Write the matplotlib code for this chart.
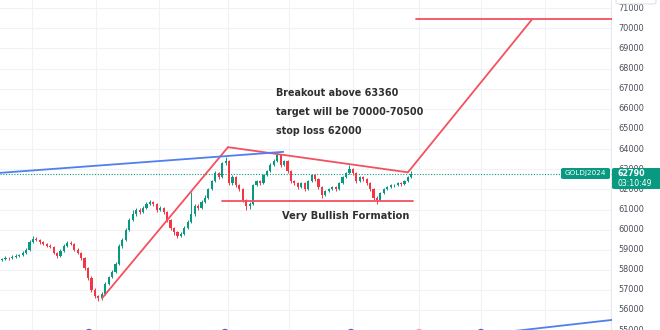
import matplotlib
matplotlib.use("Agg")
import matplotlib.pyplot as plt
from matplotlib.patches import FancyBboxPatch
import numpy as np

# ---- data ----
opens = [58500, 58550, 58600, 58580, 58650, 58700, 58720, 58850, 59000, 59400,
         59550, 59500, 59380, 59300, 59200, 59150, 58850, 58700, 58950, 59200,
         59350, 59300, 59000, 58850, 58600, 58100, 57600, 57000, 56700, 56600,
         56800, 57300, 57650, 57900, 58300, 59200, 59500, 60000, 60500, 60800,
         61000, 60900, 61100, 61300, 61400, 61300, 61000, 61100, 60900, 60500,
         60100, 59900, 59700, 59800, 60100, 60400, 60800, 61200, 61100, 61400,
         61600, 62000, 62400, 62800, 62600, 63300, 63400, 62300, 62600, 62200,
         62000, 61500, 61200, 61300, 62200, 62400, 62300, 62700, 62900, 63200,
         63400, 63700, 63200, 63400, 62900, 62400, 62300, 62100, 62300, 62000,
         62400, 62700, 62500, 62100, 61700, 61900, 62000, 62100, 62000, 62300,
         62600, 62800, 63000, 62800, 62400, 62600, 62500, 62300, 62000, 61600,
         61500, 61800, 62000, 62100, 62200, 62200, 62300, 62250, 62400, 62600]
closes = [58550, 58600, 58580, 58650, 58700, 58720, 58850, 59000, 59400, 59550,
          59500, 59380, 59300, 59200, 59150, 58850, 58700, 58950, 59200, 59350,
          59300, 59000, 58850, 58600, 58100, 57600, 57000, 56700, 56600, 56800,
          57300, 57650, 57900, 58300, 59200, 59500, 60000, 60500, 60800, 61000,
          60900, 61100, 61300, 61400, 61300, 61000, 61100, 60900, 60500, 60100,
          59900, 59700, 59800, 60100, 60400, 60800, 61200, 61100, 61400, 61600,
          62000, 62400, 62800, 62600, 63300, 63400, 62300, 62600, 62200, 62000,
          61500, 61200, 61300, 62200, 62400, 62300, 62700, 62900, 63200, 63400,
          63700, 63200, 63400, 62900, 62400, 62300, 62100, 62300, 62000, 62400,
          62700, 62500, 62100, 61700, 61900, 62000, 62100, 62000, 62300, 62600,
          62800, 63000, 62800, 62400, 62600, 62500, 62300, 62000, 61600, 61500,
          61800, 62000, 62100, 62200, 62200, 62300, 62250, 62400, 62600, 62790]
highs = [58620, 58680, 58660, 58720, 58780, 58800, 58920, 59080, 59480, 59680,
         59620, 59560, 59450, 59360, 59280, 59200, 58900, 59020, 59280, 59450,
         59420, 59350, 59080, 58900, 58650, 58150, 57680, 57100, 56780, 56900,
         57380, 57720, 58000, 58380, 59280, 59600, 60080, 60600, 61000, 61100,
         61080, 61200, 61380, 61500, 61450, 61350, 61200, 61150, 60950, 60550,
         60150, 59950, 59900, 60200, 60480, 61870, 61300, 61280, 61480, 61700,
         62080, 62480, 62900, 62850, 63380, 63600, 63450, 62700, 62650, 62250,
         62050, 61550, 61400, 62280, 62480, 62450, 62780, 62980, 63300, 63500,
         63850, 63750, 63480, 63450, 62950, 62480, 62350, 62380, 62350, 62480,
         62780, 62750, 62550, 62150, 61980, 62080, 62180, 62150, 62380, 62680,
         62880, 63200, 63050, 62850, 62680, 62650, 62550, 62350, 62050, 61650,
         61880, 62080, 62180, 62280, 62280, 62380, 62350, 62480, 62680, 62900]
lows = [58430, 58500, 58520, 58530, 58600, 58640, 58680, 58800, 58950, 59350,
        59420, 59300, 59220, 59120, 59080, 58780, 58620, 58650, 58900, 59150,
        59220, 58920, 58780, 58500, 58000, 57500, 56900, 56600, 56450, 56500,
        56750, 57250, 57600, 57850, 58250, 59100, 59450, 59950, 60450, 60700,
        60800, 60850, 61050, 61250, 61200, 60900, 60950, 60800, 60400, 60000,
        59750, 59600, 59650, 59750, 60050, 60350, 60700, 61000, 61050, 61350,
        61550, 61950, 62350, 62500, 62550, 63200, 62200, 62200, 62100, 61900,
        61400, 61000, 61050, 61250, 62150, 62200, 62250, 62650, 62850, 63150,
        63350, 63100, 63150, 62800, 62300, 62200, 62000, 62050, 61900, 61950,
        62350, 62400, 62000, 61600, 61650, 61850, 61950, 61920, 61950, 62250,
        62550, 62750, 62700, 62300, 62350, 62400, 62200, 61900, 61500, 61300,
        61450, 61750, 61950, 62050, 62120, 62150, 62180, 62200, 62350, 62550]

price_ticks = [55000, 56000, 57000, 58000, 59000, 60000, 61000, 62000, 63000,
               64000, 65000, 66000, 67000, 68000, 69000, 70000, 71000]
last_price = 62790
symbol = "GOLDJ2024"
countdown = "03:10:49"

# drawn trend lines (bar index, price)
red_up = ([29.1, 65.7], [56600, 64100])
red_top = ([65.7, 118.0], [64100, 62850])
red_breakout = ([118.0, 154.1], [62850, 70450])
red_target = ([120.3, 177.3], [70450, 70450])
red_support = ([63.9, 119.5], [61420, 61420])
blue_upper = ([-0.6, 81.7], [62823, 63867])
blue_lower = ([145.3, 177.3], [54900, 55520])

notes = ["Breakout above 63360", "target will be 70000-70500", "stop loss 62000"]
formation = "Very Bullish Formation"

# ---- figure ----
W, H = 660, 330
fig = plt.figure(figsize=(6.6, 3.3), dpi=100)
fig.patch.set_facecolor("white")
PLOT_R = 612
ax = fig.add_axes([0, 0, PLOT_R / W, 1])
ax.set_facecolor("white")

SP = 3.44
x0 = -2 / SP
ax.set_xlim(x0, x0 + PLOT_R / SP)
ax.set_ylim(55020, 71408)
for s in ax.spines.values():
    s.set_visible(False)
ax.set_xticks([])
ax.set_yticks([])

def px2idx(px):
    return (px - 2) / SP

grid_c = "#f0f2f6"
for p in price_ticks:
    ax.axhline(p, color=grid_c, lw=0.8, zorder=0)
for gx in [32, 96, 159, 228, 289, 353, 419, 481, 545]:
    ax.axvline(px2idx(gx), color=grid_c, lw=0.8, zorder=0)
ax.axvline(px2idx(611), color="#e6e8ee", lw=0.8, zorder=0)

green = "#089981"
red = "#F23645"
idx = np.arange(len(closes))
o = np.array(opens); c = np.array(closes)
h = np.array(highs); l = np.array(lows)
cols = [green if cc >= oo else red for oo, cc in zip(o, c)]
ax.vlines(idx, l, h, colors=cols, lw=0.7, zorder=2)
bot = np.minimum(o, c)
hgt = np.maximum(np.abs(c - o), 25)
ax.bar(idx, hgt, bottom=bot, width=0.62, color=cols, lw=0, zorder=3)

# last price dotted line
ax.axhline(last_price, color=green, lw=0.8, ls=(0, (1, 1.5)), zorder=1)

lc = "#F4515F"
for xs, ys in [red_up, red_top, red_breakout, red_target, red_support]:
    ax.plot(xs, ys, color=lc, lw=1.3, zorder=4, solid_capstyle="round")
bc = "#4F7FF0"
for xs, ys in [blue_upper, blue_lower]:
    ax.plot(xs, ys, color=bc, lw=1.3, zorder=4)

# event markers at bottom
mk_x = [89, 225, 351, 419, 481]
mk_c = ["#5b5bd6", "#5b5bd6", "#5b5bd6", "#e9a6c9", "#5b5bd6"]
ax.scatter([px2idx(v) for v in mk_x], [54860] * len(mk_x), s=40,
           c=mk_c, zorder=5, clip_on=True, linewidths=0)

# annotations
def ypx(price):
    return 28.3 + (70000 - price) * 20.12 / 1000

tc = "#2f2f2f"
for i, t in enumerate(notes):
    fig.text(276 / W, 1 - [93, 112, 131][i] / H, t, fontsize=6.9,
             fontweight="bold", color=tc, va="center", ha="left")
fig.text(282 / W, 1 - 216 / H, formation, fontsize=7.1, fontweight="bold",
         color=tc, va="center", ha="left")

# right price scale labels
for p in price_ticks:
    yp = ypx(p)
    if -5 < yp < H + 5:
        fig.text(618 / W, 1 - yp / H, f"{p}", fontsize=5.9, color="#4a4e5a",
                 va="center", ha="left")

# symbol label and price box
fig.patches.append(FancyBboxPatch((561 / W, 1 - 179 / H), 49 / W, 11 / H,
                   boxstyle="round,pad=0,rounding_size=0.004",
                   transform=fig.transFigure, fc=green, ec="none", zorder=10))
fig.text(585.5 / W, 1 - 173.5 / H, symbol, fontsize=5.2, color="white",
         ha="center", va="center", zorder=11)
fig.patches.append(FancyBboxPatch((612 / W, 1 - 189 / H), 50 / W, 21 / H,
                   boxstyle="round,pad=0,rounding_size=0.004",
                   transform=fig.transFigure, fc=green, ec="none", zorder=10))
fig.text(617 / W, 1 - 173.5 / H, f"{last_price}", fontsize=5.8, color="white",
         fontweight="bold", ha="left", va="center", zorder=11)
fig.text(617 / W, 1 - 183 / H, countdown, fontsize=5.6, color="white",
         ha="left", va="center", zorder=11)

# small box at top right
fig.patches.append(FancyBboxPatch((616 / W, 1 - 4 / H), 40 / W, 10 / H,
                   boxstyle="round,pad=0,rounding_size=0.005",
                   transform=fig.transFigure, fc="white", ec="#d6d8de",
                   lw=0.6, zorder=10))

fig.savefig("out.png", dpi=100)
